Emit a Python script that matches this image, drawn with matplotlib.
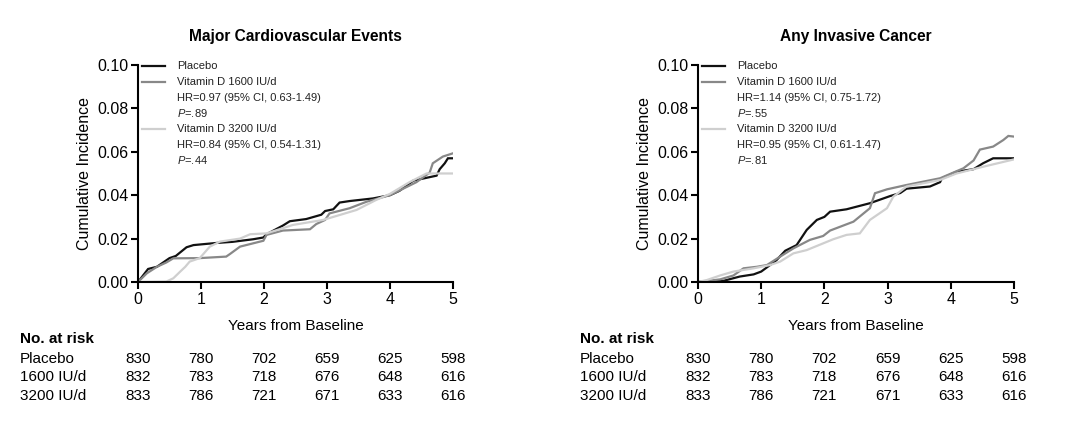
import numpy as np
import matplotlib.pyplot as plt
from matplotlib.lines import Line2D
import matplotlib.transforms as mtransforms

plt.rcParams['font.family'] = ['Liberation Sans', 'DejaVu Sans']
plt.rcParams['mathtext.fontset'] = 'custom'
plt.rcParams['mathtext.it'] = 'Liberation Sans:italic'
plt.rcParams['mathtext.rm'] = 'Liberation Sans'

# ----- Curve data -----
# Major cardiovascular events
cv_placebo_x = [0, 0.08, 0.16, 0.3, 0.4, 0.5, 0.6, 0.77, 0.88, 1.25, 1.5, 1.83, 1.99, 2.04, 2.3, 2.41,
                2.67, 2.91, 2.97, 3.1, 3.2, 3.36, 3.73, 4.0, 4.15, 4.37, 4.74, 4.79, 4.87, 4.92, 5.0]
cv_placebo_y = [0, 0.003, 0.006, 0.007, 0.009, 0.011, 0.012, 0.016, 0.017, 0.018, 0.0185, 0.0197, 0.0205,
                0.022, 0.026, 0.028, 0.029, 0.031, 0.0327, 0.0335, 0.0366, 0.0373, 0.0385, 0.040, 0.042,
                0.0467, 0.049, 0.052, 0.0547, 0.057, 0.057]
cv_1600_x = [0, 0.14, 0.3, 0.45, 0.56, 0.98, 1.4, 1.46, 1.62, 1.99, 2.04, 2.3, 2.73, 2.83, 2.97, 3.04,
             3.36, 3.63, 4.0, 4.42, 4.63, 4.68, 4.84, 5.0]
cv_1600_y = [0, 0.004, 0.007, 0.009, 0.0109, 0.011, 0.0117, 0.0129, 0.0163, 0.019, 0.0217, 0.0237,
             0.0243, 0.0267, 0.0286, 0.0316, 0.034, 0.037, 0.040, 0.046, 0.0504, 0.0547, 0.0578, 0.0593]
cv_3200_x = [0, 0.45, 0.56, 0.67, 0.75, 0.82, 0.98, 1.14, 1.3, 1.62, 1.78, 2.04, 2.46, 2.94, 3.47,
             3.78, 4.0, 4.31, 4.58, 5.0]
cv_3200_y = [0, 0.0002, 0.0017, 0.0048, 0.007, 0.0094, 0.011, 0.0163, 0.0186, 0.020, 0.022, 0.0224,
             0.0263, 0.0286, 0.0332, 0.0378, 0.0406, 0.046, 0.050, 0.050]

# Any invasive cancer
ca_placebo_x = [0, 0.4, 0.66, 0.88, 1.0, 1.14, 1.24, 1.38, 1.56, 1.72, 1.88, 2.0, 2.09, 2.35, 2.72,
                3.04, 3.2, 3.3, 3.67, 3.83, 3.86, 4.09, 4.36, 4.51, 4.67, 5.0]
ca_placebo_y = [0, 0.0005, 0.0025, 0.0035, 0.0048, 0.0078, 0.010, 0.0144, 0.017, 0.024, 0.0286, 0.030,
                0.0324, 0.0335, 0.0363, 0.0396, 0.041, 0.043, 0.044, 0.046, 0.0478, 0.0508, 0.052,
                0.0547, 0.057, 0.057]
ca_1600_x = [0, 0.35, 0.56, 0.72, 0.93, 1.09, 1.3, 1.51, 1.77, 1.98, 2.09, 2.46, 2.72, 2.8, 2.99, 3.3,
             3.83, 3.99, 4.2, 4.36, 4.46, 4.67, 4.83, 4.91, 5.0]
ca_1600_y = [0, 0.0012, 0.003, 0.0063, 0.007, 0.0078, 0.0117, 0.0155, 0.0194, 0.0212, 0.0237, 0.0278,
             0.034, 0.0409, 0.0427, 0.0447, 0.0478, 0.0498, 0.0524, 0.056, 0.061, 0.0624, 0.0654,
             0.0673, 0.067]
ca_3200_x = [0, 0.14, 0.35, 0.56, 0.88, 1.14, 1.3, 1.51, 1.72, 1.98, 2.14, 2.35, 2.56, 2.72, 2.99,
             3.09, 3.3, 3.83, 4.09, 4.51, 5.0]
ca_3200_y = [0, 0.0009, 0.003, 0.0048, 0.0063, 0.0078, 0.0094, 0.0132, 0.0147, 0.0178, 0.0197, 0.0217,
             0.0224, 0.0286, 0.034, 0.0393, 0.044, 0.047, 0.050, 0.0531, 0.0565]

# Number at risk
years = [0, 1, 2, 3, 4, 5]
risk_labels = ["Placebo", "1600 IU/d", "3200 IU/d"]
risk_placebo = [830, 780, 702, 659, 625, 598]
risk_1600 = [832, 783, 718, 676, 648, 616]
risk_3200 = [833, 786, 721, 671, 633, 616]

cv_stats = ["HR=0.97 (95% CI, 0.63-1.49)", "$P$=.89", "HR=0.84 (95% CI, 0.54-1.31)", "$P$=.44"]
ca_stats = ["HR=1.14 (95% CI, 0.75-1.72)", "$P$=.55", "HR=0.95 (95% CI, 0.61-1.47)", "$P$=.81"]

colors = ["#111111", "#888888", "#cfcfcf"]

fig = plt.figure(figsize=(10.8, 4.25), dpi=100)
ax1 = fig.add_axes([0.1278, 0.3365, 0.2916, 0.5106])
ax2 = fig.add_axes([0.6463, 0.3365, 0.2926, 0.5106])


def draw_panel(ax, title, curves, stats, table_x):
    for (xs, ys), c in zip(curves, colors):
        ax.plot(xs, ys, color=c, lw=1.6, solid_joinstyle="miter")
    ax.set_xlim(0, 5)
    ax.set_ylim(0, 0.10)
    ax.set_xticks(years)
    ax.set_yticks(np.arange(0, 0.101, 0.02))
    ax.yaxis.set_major_formatter(plt.FormatStrFormatter("%.2f"))
    for s in ["top", "right"]:
        ax.spines[s].set_visible(False)
    for s in ["left", "bottom"]:
        ax.spines[s].set_linewidth(1.5)
    ax.tick_params(width=1.5, length=5, labelsize=11.5, pad=2)
    ax.set_title(title, fontsize=11.2, fontweight="bold", pad=17)
    ax.set_ylabel("Cumulative Incidence", fontsize=11.5)
    ax.yaxis.set_label_coords(-0.146, 0.5)
    ax.set_xlabel("Years from Baseline", fontsize=11)
    ax.xaxis.set_label_coords(0.5, -0.17)

    # legend drawn by hand
    rows = [0.995, 0.922, 0.848, 0.779, 0.705, 0.631, 0.562]
    texts = ["Placebo", "Vitamin D 1600 IU/d", stats[0], stats[1],
             "Vitamin D 3200 IU/d", stats[2], stats[3]]
    for r, t in zip(rows, texts):
        ax.text(0.124, r, t, transform=ax.transAxes, fontsize=8, va="center", ha="left",
                color="#222222")
    for r, c in zip([rows[0], rows[1], rows[4]], colors):
        ax.add_line(Line2D([0.013, 0.086], [r, r], transform=ax.transAxes, color=c, lw=1.6,
                           clip_on=False))

    # number at risk table
    trans = mtransforms.blended_transform_factory(ax.transData, fig.transFigure)
    fig.text(table_x, 0.2024, "No. at risk", fontsize=11, fontweight="bold", va="center")
    row_y = [0.1553, 0.1129, 0.0682]
    for lab, vals, y in zip(risk_labels, [risk_placebo, risk_1600, risk_3200], row_y):
        fig.text(table_x, y, lab, fontsize=11, va="center")
        for yr, v in zip(years, vals):
            ax.text(yr, y, str(v), transform=trans, fontsize=11, ha="center", va="center",
                    clip_on=False)


draw_panel(ax1, "Major Cardiovascular Events",
           [(cv_placebo_x, cv_placebo_y), (cv_1600_x, cv_1600_y), (cv_3200_x, cv_3200_y)],
           cv_stats, 0.0185)
draw_panel(ax2, "Any Invasive Cancer",
           [(ca_placebo_x, ca_placebo_y), (ca_1600_x, ca_1600_y), (ca_3200_x, ca_3200_y)],
           ca_stats, 0.537)

fig.savefig("out.png", dpi=100, facecolor="white")
